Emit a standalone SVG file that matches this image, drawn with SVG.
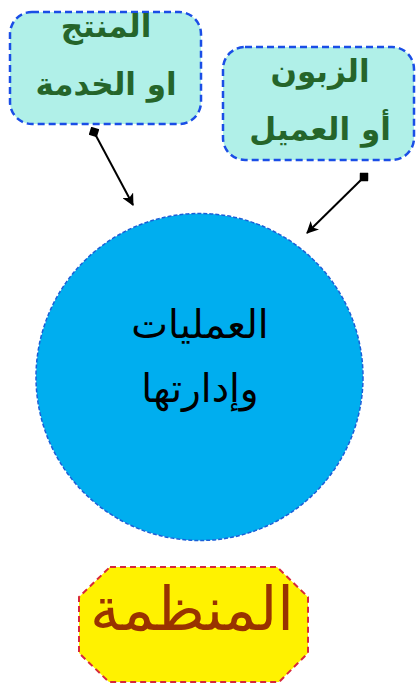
<svg xmlns="http://www.w3.org/2000/svg" width="419" height="684" viewBox="0 0 419 684">
<style>
.box{fill:#b0f0e8;stroke:#1a4ee6;stroke-width:2.5;stroke-dasharray:7 4}
.bt{font-family:"DejaVu Sans",sans-serif;font-weight:bold;font-size:31px;fill:#25652a;text-anchor:middle}
.ct{font-family:"DejaVu Sans","Noto Sans",sans-serif;font-size:39px;fill:#000;text-anchor:middle}
.ot{font-family:"DejaVu Serif","DejaVu Sans",serif;font-size:60px;fill:#993300;text-anchor:middle}
.conn{stroke:#000;stroke-width:2;fill:none;marker-start:url(#dia);marker-end:url(#arr)}
</style>
<defs>
<marker id="arr" viewBox="0 0 12 12" refX="11" refY="6" markerWidth="12" markerHeight="12" markerUnits="userSpaceOnUse" orient="auto">
<path d="M0,0 L12,6 L0,12 L3,6 Z" fill="#000"/>
</marker>
<marker id="dia" viewBox="0 0 12 12" refX="6" refY="6" markerWidth="12" markerHeight="12" markerUnits="userSpaceOnUse" orient="auto">
<path d="M0,6 L6,0 L12,6 L6,12 Z" fill="#000"/>
</marker>
</defs>
<g id="product">
<rect class="box" x="10" y="12" width="191" height="112" rx="22"/>
<text class="bt" x="106" y="37">المنتج</text>
<text class="bt" x="106" y="95">او الخدمة</text>
</g>
<g id="customer">
<rect class="box" x="223" y="47" width="191" height="113" rx="22"/>
<text class="bt" x="320" y="82">الزبون</text>
<text class="bt" x="320" y="140">أو العميل</text>
</g>
<g id="operations">
<circle cx="199.5" cy="377" r="163.5" fill="#00aeef" stroke="#1a5fd8" stroke-width="1.5" stroke-dasharray="4 2"/>
<text class="ct" x="200" y="338">العمليات</text>
<text class="ct" x="200" y="402">وإدارتها</text>
</g>
<g id="organization">
<polygon points="110,567 277,567 308,597 308,653 279,682 109,682 79,653 79,597" fill="#fff200" stroke="#d8283a" stroke-width="2" stroke-dasharray="6 4"/>
<text class="ot" x="192" y="630">المنظمة</text>
</g>
<g id="connectors">
<line class="conn" x1="94" y1="132" x2="133" y2="205"/>
<line class="conn" x1="364" y1="177" x2="307" y2="233"/>
</g>
</svg>
